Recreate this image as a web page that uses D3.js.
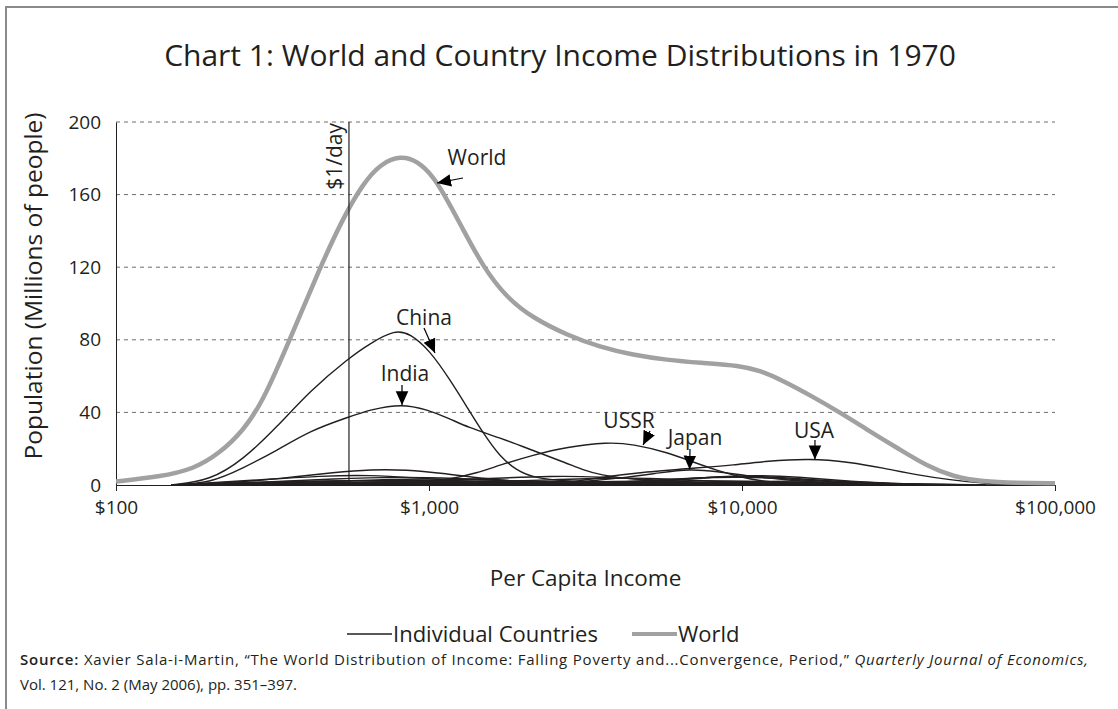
<!DOCTYPE html>
<html>
<head>
<meta charset="utf-8">
<script src="https://cdn.jsdelivr.net/npm/d3@7"></script>
<style>
  body { margin: 0; background: #fff; }
  text { font-family: "Open Sans", Lato, sans-serif; fill: #231f20; }
</style>
</head>
<body>
<div id="chart"></div>
<script>
// income distributions in 1970, [per capita income, millions of people]
var world = [[100,1.9],[138,4.6],[176,8.5],[215,17.6],[255,30],[295,46],[359,80],[449,120],[531,147],[615,166],
  [700,177],[810,181.5],[920,178.5],[1030,170],[1110,161],[1257,144],[1489,120],[1776,103],[2148,92],[2760,82.6],
  [3518,76],[4487,71.6],[5757,68.9],[7341,67.3],[9856,65.8],[11430,63],[13530,57.5],[16490,49.5],[20560,40],
  [25070,30.5],[31970,19.5],[39000,10.5],[47210,4.6],[58880,1.8],[75000,1.1],[100000,1]];
var china = [[150,0],[200,2.5],[255,14],[327,32],[417,52],[555,70],[648,78],[779,85.5],[869,83.5],[1007,74],
  [1167,58],[1322,43],[1489,28.6],[1687,15.4],[1910,8],[2148,4],[2760,2],[4000,1],[8000,0.3],[15000,0]];
var india = [[150,0],[200,1],[255,9.4],[327,19],[417,30],[555,37.5],[648,41.5],[820,44.8],[986,41.5],[1167,36.5],
  [1322,32],[1687,26],[2148,19],[2760,12],[3105,8.3],[3518,5.5],[4487,3],[7000,1],[12000,0]];
var ussr = [[800,0],[1167,3],[1422,6.6],[1687,11],[2148,16.5],[2760,21],[3707,23.6],[4487,22.6],[5757,18],
  [6968,12.7],[8318,8],[9856,4.5],[11430,2],[15000,0.5],[20000,0]];
var japan = [[2000,0],[3000,1.5],[4200,4],[5500,6.8],[6800,8.8],[8300,7.5],[10500,5],[14000,2.5],[22000,0.5],[30000,0]];
var usa = [[2500,0],[3443,4],[4721,7],[7341,9.5],[9354,11],[12020,13.2],[16490,14.6],[22130,12.6],[28180,9.4],
  [36200,5.5],[46240,2.8],[58880,1],[80000,0]];
var otherCountries = [
  [[150,0],[250,1.5],[350,4],[500,7],[650,8.6],[850,8.4],[1100,6.5],[1500,3.5],[2200,1],[3500,0]],
  [[150,0],[300,3],[450,5],[650,5.5],[900,4],[1300,2],[2000,0.5],[3000,0]],
  [[150,0],[300,1.5],[500,3.5],[800,4.5],[1200,3.8],[2000,2],[3500,0.5],[6000,0]],
  [[200,0],[400,1.5],[700,3],[1000,3.5],[1500,3],[2500,1.5],[4000,0.3],[6000,0]],
  [[400,0],[800,1.5],[1500,3.5],[2500,5],[3500,4.5],[5000,3],[8000,1],[12000,0]],
  [[600,0],[1200,1],[2500,3],[4000,4],[6000,3.5],[9000,1.5],[14000,0]],
  [[3000,0],[5000,1.5],[8000,4.5],[11000,5.5],[15000,4.5],[22000,2],[35000,0]],
  [[3000,0],[5000,2],[8000,4.5],[11000,5],[15000,3.5],[22000,1.5],[35000,0]],
  [[2500,0],[4500,2],[7000,4],[10000,4.5],[14000,3.5],[20000,1.5],[30000,0]],
  [[150,0],[300,1],[600,2.5],[1000,2.5],[2000,1.5],[4000,0.5],[8000,0]],
  [[200,0],[500,1],[1000,2],[2000,2.5],[4000,1.5],[8000,0.5],[15000,0]],
  [[300,0],[700,0.8],[1500,1.5],[3000,1.8],[6000,1.3],[12000,0.5],[25000,0]],
  [[150,0],[350,2],[600,2.5],[900,2],[1500,1],[3000,0]],
  [[200,0],[400,1],[700,1.5],[1200,1.2],[2500,0.6],[5000,0]],
  [[1000,0],[2000,1],[4000,2],[7000,2.5],[12000,2],[20000,0.8],[35000,0]],
  [[4000,0],[7000,1],[12000,2],[18000,2.5],[26000,1.5],[40000,0]],
  [[200,0],[400,0.6],[800,1],[1600,0.8],[3000,0.3],[6000,0]],
  [[250,0],[600,0.5],[1200,0.9],[2500,0.7],[5000,0.3],[10000,0]],
  [[500,0],[1000,0.4],[2500,0.8],[5000,0.7],[10000,0.4],[20000,0]],
  [[1500,0],[3000,0.5],[6000,1],[12000,0.8],[25000,0.3],[50000,0]],
  [[180,0],[350,0.8],[700,1.2],[1400,0.9],[2800,0.3],[6000,0]],
  [[800,0],[1600,0.6],[3200,1.1],[6400,0.9],[13000,0.4],[26000,0]],
  [[2500,0],[5000,0.8],[10000,1.4],[20000,1],[40000,0.3],[70000,0]],
  [[300,0],[900,0.3],[2000,0.5],[5000,0.5],[12000,0.3],[30000,0]],
  [[200,0],[500,0.4],[1000,0.6],[2000,0.5],[4000,0.2],[8000,0]],
  [[1200,0],[2500,0.3],[5000,0.6],[10000,0.6],[20000,0.3],[45000,0]],
  [[250,0],[700,1.8],[1300,2.2],[2200,1.2],[4000,0.3],[7000,0]],
  [[220,0],[450,1.2],[900,1.6],[1800,1.3],[3600,0.6],[8000,0]],
  [[600,0],[1300,0.9],[2600,1.4],[5200,1.2],[10000,0.6],[20000,0]],
  [[2000,0],[4000,1.1],[8000,1.8],[16000,1.5],[32000,0.6],[60000,0]],
  [[350,0],[800,0.7],[1800,1.1],[4000,1],[9000,0.5],[18000,0]],
  [[5000,0],[9000,0.8],[15000,1.2],[24000,1],[38000,0.4],[60000,0]]
];
var oneDollarDay = 555;
var xTicks = [100, 1000, 10000, 100000];
var yTicks = [0, 40, 80, 120, 160, 200];

var width = 1118, height = 709;
var svg = d3.select("#chart").append("svg")
  .attr("width", width)
  .attr("height", height);

// frame
svg.append("rect")
  .attr("x", 6).attr("y", 7)
  .attr("width", 1300).attr("height", 900)
  .attr("fill", "none")
  .attr("stroke", "#8a8a8a")
  .attr("stroke-width", 2);

var x = d3.scaleLog().domain([100, 100000]).range([116, 1055]);
var y = d3.scaleLinear().domain([0, 200]).range([485, 122]);

svg.append("text")
  .attr("x", 560).attr("y", 66)
  .attr("text-anchor", "middle")
  .attr("font-size", "30px")
  .text("Chart 1: World and Country Income Distributions in 1970");

var defs = svg.append("defs");
defs.append("clipPath").attr("id", "plot")
  .append("rect")
  .attr("x", x(100)).attr("y", y(200) - 10)
  .attr("width", x(100000) - x(100)).attr("height", y(0) - y(200) + 13);

// grid
svg.append("g").selectAll("line")
  .data(yTicks.filter(function(d) { return d > 0; }))
  .enter().append("line")
  .attr("x1", x(100)).attr("x2", x(100000))
  .attr("y1", function(d) { return y(d); })
  .attr("y2", function(d) { return y(d); })
  .attr("stroke", "#6d6d6d")
  .attr("stroke-width", 1)
  .attr("stroke-dasharray", "4,4");

var xAxis = svg.append("g")
  .attr("transform", "translate(0," + y(0) + ")")
  .call(d3.axisBottom(x).tickValues(xTicks)
    .tickFormat(function(d) { return "$" + d3.format(",")(d); })
    .tickSize(6).tickPadding(10));
xAxis.selectAll("text").attr("font-size", "19px").attr("font-family", null);
xAxis.selectAll("line,path").attr("stroke", "#231f20");

var yAxis = svg.append("g")
  .attr("transform", "translate(" + x(100) + ",0)")
  .call(d3.axisLeft(y).tickValues(yTicks).tickSize(0).tickPadding(15));
yAxis.selectAll("text").attr("font-size", "19px").attr("font-family", null);
yAxis.select("path").attr("stroke", "#231f20");

svg.append("text")
  .attr("transform", "translate(42,286) rotate(-90)")
  .attr("text-anchor", "middle")
  .attr("font-size", "24.5px")
  .text("Population (Millions of people)");

svg.append("text")
  .attr("x", (x(100) + x(100000)) / 2).attr("y", 586)
  .attr("text-anchor", "middle")
  .attr("font-size", "22.5px")
  .text("Per Capita Income");

var line = d3.line()
  .x(function(d) { return x(d[0]); })
  .y(function(d) { return y(d[1]); })
  .curve(d3.curveBasis);

var plot = svg.append("g").attr("clip-path", "url(#plot)");

var countries = otherCountries.concat([china, india, ussr, japan, usa]);
plot.append("g").selectAll("path")
  .data(countries)
  .enter().append("path")
  .attr("d", line)
  .attr("fill", "none")
  .attr("stroke", "#231f20")
  .attr("stroke-width", 1.4);

// $1/day
svg.append("line")
  .attr("x1", x(oneDollarDay)).attr("x2", x(oneDollarDay))
  .attr("y1", y(200)).attr("y2", y(0))
  .attr("stroke", "#231f20").attr("stroke-width", 1.2);
svg.append("text")
  .attr("transform", "translate(" + (x(oneDollarDay) - 7) + "," + (y(200) + 1) + ") rotate(-90)")
  .attr("text-anchor", "end")
  .attr("font-size", "21px")
  .text("$1/day");

plot.append("path")
  .datum(world)
  .attr("d", line)
  .attr("fill", "none")
  .attr("stroke", "#a1a1a3")
  .attr("stroke-width", 4.5);

// arrows
defs.append("marker")
  .attr("id", "head")
  .attr("viewBox", "0 0 10 10")
  .attr("refX", 10).attr("refY", 5)
  .attr("markerWidth", 14).attr("markerHeight", 14)
  .attr("markerUnits", "userSpaceOnUse")
  .attr("orient", "auto")
  .append("path").attr("d", "M0,0.5L10,5L0,9.5z").attr("fill", "#000");

var notes = [
  {name: "World", at: [1061, 166.4], text: [477, 165], from: [463, 178]},
  {name: "China", at: [1045, 72.7], text: [424, 325], from: [424, 328]},
  {name: "India", at: [820, 44], text: [405, 381], from: [402, 385]},
  {name: "USSR", at: [4830, 22], text: [629, 428], from: [650, 431]},
  {name: "Japan", at: [6800, 8.5], text: [695, 445], from: [690, 449]},
  {name: "USA", at: [17100, 14.1], text: [814, 438], from: [815, 440]}
];
var nt = svg.append("g").selectAll("g").data(notes).enter().append("g");
nt.append("line")
  .attr("x1", function(d) { return d.from[0]; })
  .attr("y1", function(d) { return d.from[1]; })
  .attr("x2", function(d) { return x(d.at[0]); })
  .attr("y2", function(d) { return y(d.at[1]); })
  .attr("stroke", "#000").attr("stroke-width", 1.2)
  .attr("marker-end", "url(#head)");
nt.append("text")
  .attr("x", function(d) { return d.text[0]; })
  .attr("y", function(d) { return d.text[1]; })
  .attr("text-anchor", "middle")
  .attr("font-size", "21px")
  .text(function(d) { return d.name; });

// legend
var legend = [
  {name: "Individual Countries", color: "#231f20", w: 1.5, x: 347},
  {name: "World", color: "#a1a1a3", w: 4, x: 632}
];
var lg = svg.append("g").selectAll("g").data(legend).enter().append("g");
lg.append("line")
  .attr("x1", function(d) { return d.x; })
  .attr("x2", function(d) { return d.x + 45; })
  .attr("y1", 634).attr("y2", 634)
  .attr("stroke", function(d) { return d.color; })
  .attr("stroke-width", function(d) { return d.w; });
lg.append("text")
  .attr("x", function(d) { return d.x + 46; })
  .attr("y", 642)
  .attr("font-size", "22px")
  .text(function(d) { return d.name; });

// source
var src = svg.append("text").attr("x", 20).attr("y", 665)
  .attr("font-size", "15px")
  .attr("textLength", 1068).attr("lengthAdjust", "spacing");
src.append("tspan").attr("font-weight", 600).text("Source:");
src.append("tspan").text(" Xavier Sala-i-Martin, \u201cThe World Distribution of Income: Falling Poverty and...Convergence, Period,\u201d ");
src.append("tspan").attr("font-style", "italic").text("Quarterly Journal of Economics,");
svg.append("text").attr("x", 20).attr("y", 690).attr("font-size", "15px")
  .text("Vol. 121, No. 2 (May 2006), pp. 351\u2013397.");
</script>
</body>
</html>
